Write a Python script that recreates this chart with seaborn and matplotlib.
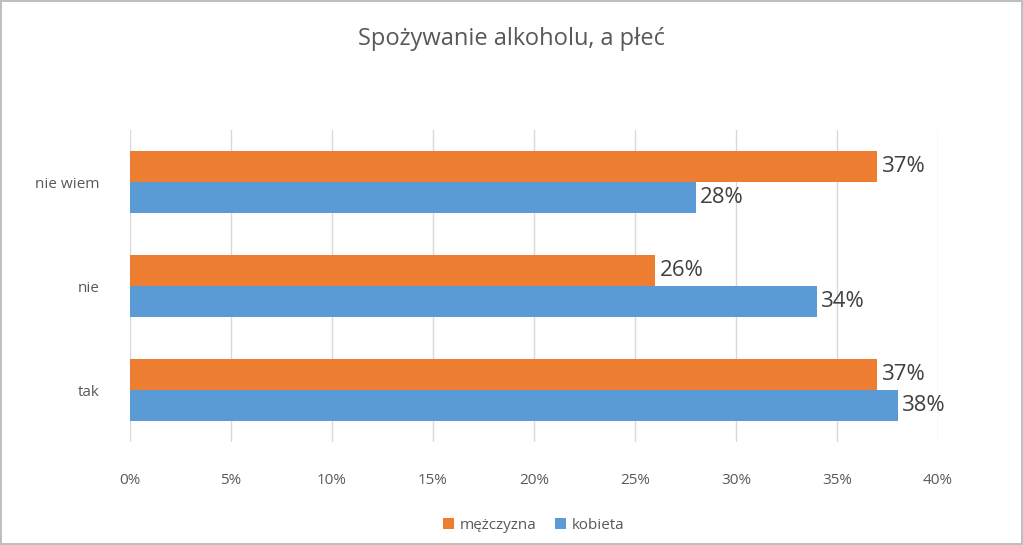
import matplotlib
matplotlib.use("Agg")
import matplotlib.pyplot as plt
import seaborn as sns
import pandas as pd

categories = ["nie wiem", "nie", "tak"]
series = ["mężczyzna", "kobieta"]
men = [37, 26, 37]
women = [28, 34, 38]
xticks = [0, 5, 10, 15, 20, 25, 30, 35, 40]
colors = {"mężczyzna": "#ED7D31", "kobieta": "#5B9BD5"}

df = pd.DataFrame({
    "cat": categories * 2,
    "sex": [series[0]] * 3 + [series[1]] * 3,
    "val": men + women,
})

plt.rcParams["font.family"] = "Open Sans"
fig = plt.figure(figsize=(10.23, 5.45), dpi=100)
fig.patch.set_edgecolor("#BFBFBF")
fig.patch.set_linewidth(1.5)
ax = fig.add_axes([0.127, 0.189, 0.79, 0.572])
sns.barplot(data=df, y="cat", x="val", hue="sex", order=categories,
            hue_order=series, palette=colors, orient="h", width=0.6,
            gap=0, saturation=1, ax=ax, legend=True)
for cont in ax.containers:
    ax.bar_label(cont, labels=[f"{v:.0f}%" for v in cont.datavalues],
                 fontsize=16, color="#404040", padding=3)
ax.set_xlim(0, 40)
ax.set_ylim(2.5, -0.5)
ax.set_xticks(xticks)
ax.set_xticklabels([f"{t}%" for t in xticks], fontsize=11, color="#595959")
ax.tick_params(axis="y", labelsize=11, labelcolor="#595959", length=0, pad=22)
ax.tick_params(axis="x", length=0, pad=22)
ax.grid(axis="x", color="#D9D9D9", linewidth=1)
ax.set_axisbelow(True)
for s in ax.spines.values():
    s.set_visible(False)
ax.set_xlabel("")
ax.set_ylabel("")
ax.legend(loc="upper center", bbox_to_anchor=(0.5, -0.2), ncol=2, frameon=False,
          fontsize=11, handlelength=0.7, handleheight=0.7, labelcolor="#595959",
          columnspacing=1.2, handletextpad=0.4)
fig.suptitle("Spożywanie alkoholu, a płeć", y=0.95, fontsize=17, color="#595959")
fig.savefig("out.png", dpi=100)
